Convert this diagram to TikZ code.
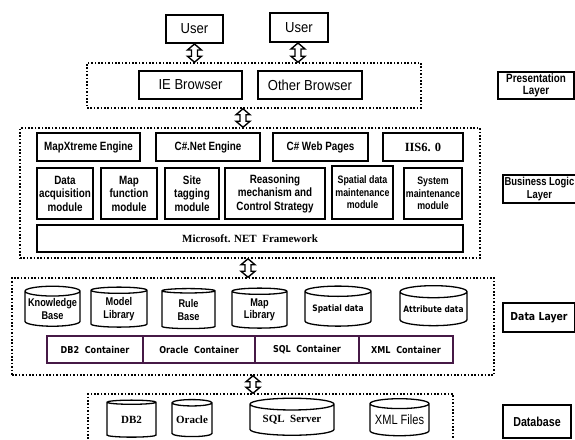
\documentclass[tikz,border=0pt]{standalone}
\usepackage{fontspec}
\setmainfont{Liberation Sans}
\newfontfamily\nar[FakeStretch=0.82]{Liberation Sans}
\newfontfamily\wid[FakeStretch=0.9]{Liberation Sans}
\newfontfamily\tms{Liberation Serif}
\newfontfamily\tah[FakeStretch=0.85]{DejaVu Sans}
\usetikzlibrary{shapes.geometric,calc}
\definecolor{contc}{RGB}{70,25,70}
\newcommand\biarrow[2]{%
\draw[barrow] let \p1=(#1), \p2=(#2) in
(\x1,\y1) -- (\x1+7pt,\y1-6pt) -- (\x1+3pt,\y1-6pt) -- (\x1+3pt,\y2+6pt) -- (\x1+7pt,\y2+6pt) -- (\x1,\y2) -- (\x1-7pt,\y2+6pt) -- (\x1-3pt,\y2+6pt) -- (\x1-3pt,\y1-6pt) -- (\x1-7pt,\y1-6pt) -- cycle;}
\tikzset{
 box/.style={draw, line width=1.8pt, inner sep=0pt, align=center},
 dotbox/.style={draw, line width=1.5pt, dash pattern=on 1.6pt off 1.8pt, inner sep=0pt},
 lbl/.style={draw, line width=2.2pt, inner sep=0pt, align=center},
 cyl/.style={cylinder, shape border rotate=90, aspect=0.2, draw, line width=1.3pt, inner sep=0pt, align=center},
 cont/.style={draw=contc, line width=1.3pt, inner sep=0pt},
 barrow/.style={draw, line width=1.4pt, fill=white, line join=miter},
 big/.style={font=\wid\fontsize{14.5}{16}\selectfont},
 nb/.style={font=\nar\bfseries\fontsize{12}{13.5}\selectfont},
 nbs/.style={font=\nar\bfseries\fontsize{11.2}{12.5}\selectfont},
 tb/.style={font=\tah\bfseries\fontsize{9.5}{11}\selectfont},
 sb/.style={font=\tms\bfseries\fontsize{11}{12}\selectfont},
}
\begin{document}
\begin{tikzpicture}[x=1pt,y=-1pt]
\useasboundingbox (0,0) rectangle (575,439);
\clip (0,0) rectangle (575,439);
\fill[white] (0,0) rectangle (575,439);
% dotted layer frames
\node[dotbox, minimum width=334pt, minimum height=45pt] (pres) at (254,85.5) {};
\node[dotbox, minimum width=460pt, minimum height=130pt] (biz) at (250,193) {};
\node[dotbox, minimum width=482pt, minimum height=97pt] (data) at (253,326.5) {};
\node[dotbox, minimum width=365pt, minimum height=80pt] (dbf) at (270.5,434) {};
% presentation
\node[box, line width=2pt, minimum width=57pt, minimum height=28pt, big] (user1) at (194.5,29) {User};
\node[box, line width=2pt, minimum width=58pt, minimum height=29pt, big] (user2) at (299,27.5) {User};
\node[box, minimum width=103pt, minimum height=28pt, big] (ie) at (190.5,85) {IE Browser};
\node[box, minimum width=104pt, minimum height=28pt, big] (other) at (310,85) {Other Browser};
\node[lbl, minimum width=76pt, minimum height=27pt, font=\nar\bfseries\fontsize{12}{12.5}\selectfont] (plab) at (536,85.5) {Presentation\\Layer};
% business
\node[box, minimum width=103pt, minimum height=28pt, nb] (mapx) at (88.5,147) {MapXtreme Engine};
\node[box, minimum width=104pt, minimum height=28pt, nb] (csnet) at (208,147) {C\#.Net Engine};
\node[box, minimum width=95pt, minimum height=28pt, nb] (csweb) at (320.5,147) {C\# Web Pages};
\node[box, minimum width=80pt, minimum height=28pt, font=\tms\bfseries\fontsize{12.5}{13}\selectfont] (iis) at (423,147) {IIS6. 0};
\node[box, minimum width=56pt, minimum height=51pt, nb] (dacq) at (65,193.5) {Data\\acquisition\\module};
\node[box, minimum width=56pt, minimum height=51pt, nb] (mapf) at (129,193.5) {Map\\function\\module};
\node[box, minimum width=54pt, minimum height=51pt, nb] (site) at (192,193.5) {Site\\tagging\\module};
\node[box, minimum width=100pt, minimum height=51pt, nb] (reas) at (275,193.5) {Reasoning\\mechanism and\\Control Strategy};
\node[box, minimum width=61pt, minimum height=53pt, font=\nar\bfseries\fontsize{10.8}{12.5}\selectfont] (spm) at (362.5,192.5) {Spatial data\\maintenance\\module};
\node[box, minimum width=58pt, minimum height=51pt, font=\nar\bfseries\fontsize{10.8}{12.5}\selectfont] (sysm) at (433,193.5) {System\\maintenance\\module};
\node[box, minimum width=426pt, minimum height=27pt, font=\tms\bfseries\fontsize{11}{12}\selectfont] (net) at (250,238.5) {Microsoft. NET\ \ Framework};
\node[lbl, minimum width=77pt, minimum height=28pt] (blab) at (541.5,189) {};
\node[font=\nar\bfseries\fontsize{11.5}{12.5}\selectfont, align=center, inner sep=0pt] (blabt) at (539.5,189) {Business Logic\\Layer};
% data layer
\node[cyl, minimum width=55pt, minimum height=40pt, nbs] (kb) at (52.5,309) {Knowledge\\Base};
\node[cyl, minimum width=56pt, minimum height=40pt, nbs] (ml) at (119,309) {Model\\Library};
\node[cyl, minimum width=53pt, minimum height=40pt, nbs] (rb) at (188.5,310) {Rule\\Base};
\node[cyl, minimum width=55pt, minimum height=40pt, nbs] (mlib) at (259.5,310) {Map\\Library};
\node[cyl, minimum width=66pt, minimum height=40pt, font=\tah\bfseries\fontsize{8.8}{10}\selectfont] (spd) at (338,309) {Spatial data};
\node[cyl, minimum width=67pt, minimum height=40pt, font=\tah\bfseries\fontsize{8.8}{10}\selectfont] (atd) at (433.5,309) {Attribute data};
\node[cont, minimum width=96pt, minimum height=27pt, tb] (c1) at (95,349.5) {DB2\ \ Container};
\node[cont, minimum width=112pt, minimum height=27pt, tb] (c2) at (199,349.5) {Oracle\ \ Container};
\node[cont, minimum width=104pt, minimum height=27pt, tb] (c3) at (307,349.5) {SQL\ \ Container};
\node[cont, minimum width=94pt, minimum height=27pt, tb] (c4) at (406,349.5) {XML\ \ Container};
\node[lbl, minimum width=72pt, minimum height=29pt, font=\tah\bfseries\fontsize{11}{12}\selectfont] (dlab) at (539,317.5) {Data Layer};
% database
\node[cyl, minimum width=49pt, minimum height=37pt, sb] (db2) at (131.5,420) {DB2};
\node[cyl, minimum width=40pt, minimum height=37pt, sb] (ora) at (192,420) {Oracle};
\node[cyl, minimum width=84pt, minimum height=37pt, sb] (sqls) at (292,420) {SQL\ \ Server};
\node[cyl, minimum width=59pt, minimum height=37pt, font=\nar\fontsize{13.5}{14}\selectfont] (xmlf) at (399.5,420) {XML Files};
\node[lbl, minimum width=68pt, minimum height=33pt, font=\nar\bfseries\fontsize{13}{14}\selectfont] (dblab) at (537,421.5) {Database};
% connectors
\biarrow{user1.south}{pres.north -| user1.south}
\biarrow{$(user2.south)+(-1,0)$}{pres.north -| user2.south}
\coordinate (a3) at (243,0);
\biarrow{pres.south -| a3}{biz.north -| a3}
\coordinate (a4) at (248,0);
\biarrow{biz.south -| a4}{data.north -| a4}
\coordinate (a5) at (253,0);
\biarrow{data.south -| a5}{dbf.north -| a5}
\end{tikzpicture}
\end{document}
